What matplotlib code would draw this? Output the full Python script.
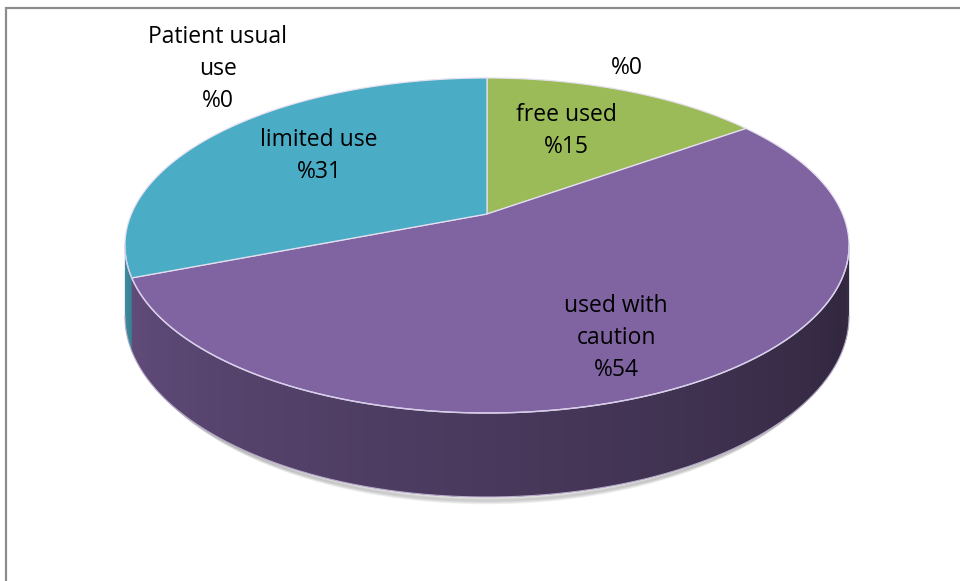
import numpy as np
import matplotlib
matplotlib.use("Agg")
import matplotlib.pyplot as plt
from matplotlib.patches import Polygon
from matplotlib.collections import PolyCollection
from matplotlib.colors import to_rgb

# data
categories = ["free used", "used with caution", "limited use", "Patient usual use", ""]
values = [15, 54, 31, 0, 0]
colors = ["#9BBB59", "#8064A2", "#4BACC6", "#F79646", "#C0504D"]
label_pos = [(566, 131), (616, 338), (319, 156), (218, 69), (627, 68)]

# 3d pie geometry (pixels)
CX, CY = 487, 214
A, B = 355.6, 161.6
P = 0.188
H = 68.2


def proj(theta, depth=0.0):
    x, y = np.cos(theta), np.sin(theta)
    d = 1 + P * y
    return CX + A * x / d, CY - B * y / d + H * depth / d


fig = plt.figure(figsize=(9.6, 5.81), dpi=100)
ax = fig.add_axes([0, 0, 1, 1])
ax.set_xlim(0, 960)
ax.set_ylim(581, 0)
ax.axis("off")

# slice angles, clockwise from 12 o'clock
total = sum(values)
bounds = 90 - np.concatenate([[0], np.cumsum(values)]) / total * 360.0

lim = np.degrees(np.arcsin(P))
tw = np.linspace(180 + lim, 360 - lim, 500)
rb = np.radians(tw)

# soft shadow under the front of the pie
for k in range(5):
    sx, sy = proj(rb, 1.0)
    sy = sy + 1.5 + k * 1.0
    sx = CX + (sx - CX) * (0.99 - 0.004 * k)
    ax.plot(sx, sy, color="#666666", lw=2.5, alpha=0.10, solid_capstyle="butt", zorder=1)

# side wall
dt = tw[1] - tw[0]
polys, fcols = [], []
for t1 in tw[:-1]:
    t2 = min(t1 + 2.5 * dt, tw[-1])
    tm = t1 + 0.5 * dt
    off = (90 - tm) % 360
    idx = np.searchsorted(np.cumsum(values) / total * 360.0, off)
    idx = min(idx, len(values) - 1)
    base = np.array(to_rgb(colors[idx]))
    shade = 0.78 - (tm - (180 + lim)) / (180 - 2 * lim) * 0.42
    c = np.clip(base * shade, 0, 1)
    r1, r2 = np.radians(t1), np.radians(t2)
    x1, y1 = proj(r1)
    x2, y2 = proj(r2)
    x3, y3 = proj(r2, 1.0)
    x4, y4 = proj(r1, 1.0)
    polys.append([(x1, y1), (x2, y2), (x3, y3), (x4, y4)])
    fcols.append(c)
ax.add_collection(PolyCollection(polys, facecolors=fcols, edgecolors="none",
                                 linewidths=0, zorder=2))

# bottom rim highlight
bx, by = proj(rb, 1.0)
ax.plot(bx, by, color="#b9aecb", lw=0.8, zorder=3)

# top face
for i, v in enumerate(values):
    if v == 0:
        continue
    th = np.radians(np.linspace(bounds[i], bounds[i + 1], 200))
    px, py = proj(th)
    pts = np.vstack([[CX, CY], np.column_stack([px, py])])
    ax.add_patch(Polygon(pts, closed=True, facecolor=colors[i],
                         edgecolor="#e6e0f0", lw=0.9, zorder=4))

# top front rim highlight
tx, ty = proj(rb)
ax.plot(tx, ty, color="#d8cdea", lw=1.0, zorder=5)

# labels
for name, v, (lx, ly) in zip(categories, values, label_pos):
    txt = f"%{v}" if name == "" else name.replace("used with caution", "used with\ncaution") \
        .replace("Patient usual use", "Patient usual\nuse") + f"\n%{v}"
    ax.text(lx, ly, txt, ha="center", va="center", fontsize=16.5,
            family="Open Sans", linespacing=1.42, color="black", zorder=6)

# chart frame
ax.plot([6, 6, 960], [581, 8, 8], color="#8c8c8c", lw=1.6, solid_joinstyle="miter", zorder=7)

fig.savefig("out.png", dpi=100)
